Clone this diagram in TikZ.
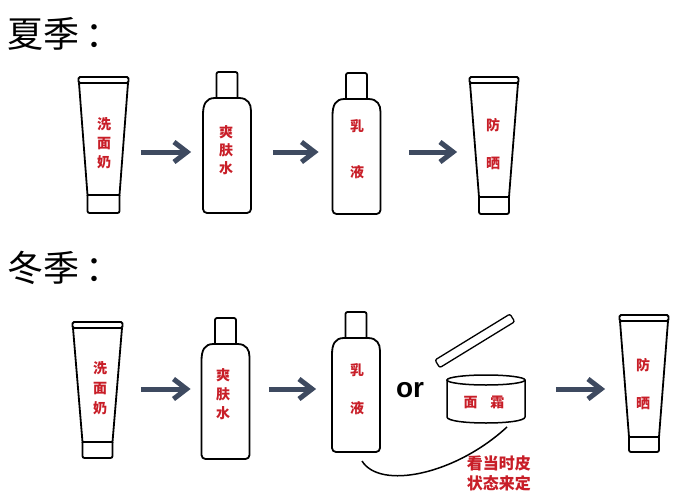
\documentclass[tikz,border=0pt]{standalone}
\usepackage{fontspec}
\usepackage{tikz}
\usetikzlibrary{arrows.meta}
\newfontfamily\cjk{Noto Sans CJK SC}
\newfontfamily\latin{Liberation Sans}
\definecolor{labred}{RGB}{200,30,40}
\definecolor{arrowgray}{RGB}{62,74,96}

\begin{document}
\begin{tikzpicture}[x=1pt,y=-1pt,line width=1.8pt,
	flow/.style={arrowgray,line width=5pt,-{Straight Barb[length=13pt,width=20pt]}},
	slot/.style={inner sep=0pt,minimum height=1pt,minimum width=#1},
	lbl/.style={text=labred,align=center,inner sep=0pt,font=\cjk\bfseries\fontsize{14}{#1}\selectfont},
	lbl/.default=19,
	season/.style={anchor=west,inner sep=0pt,font=\cjk\fontsize{36}{40}\selectfont}]
	\useasboundingbox (0,0) rectangle (678,498);

	\node[season] (summer) at (7,34) {夏季\,：};
	\node[season] (winter) at (7,268) {冬季\,：};

	% tubes
	\foreach \cx/\t/\hw/\hb/\tb/\cb in {103.5/77/24.5/16/195/213, 494/77/24/15/197/214, 97.5/322/24.5/15/442/458, 644/315/24/15/437/452}{
		\draw[rounded corners=1.5pt] ({\cx-\hw-0.5},\t) rectangle ({\cx+\hw+0.5},{\t+6});
		\draw ({\cx-\hw},{\t+6}) -- ({\cx-\hb},\tb) -- ({\cx+\hb},\tb) -- ({\cx+\hw},{\t+6});
		\draw[rounded corners=2pt] ({\cx-\hb},\tb) -- ({\cx-\hb},\cb) -- ({\cx+\hb},\cb) -- ({\cx+\hb},\tb);
	}
	% bottles
	\foreach \cx/\n/\b in {227/72/213, 356.5/73/214, 225.5/318/459, 356/312/452}{
		\draw[rounded corners=2pt] ({\cx-10.5},{\n+26}) -- ({\cx-10.5},\n) -- ({\cx+10.5},\n) -- ({\cx+10.5},{\n+26});
		\draw ({\cx-12},{\n+26}) .. controls ({\cx-21},{\n+26}) and ({\cx-24},{\n+32}) .. ({\cx-24},{\n+43})
			[rounded corners=4pt] -- ({\cx-24},\b) -- ({\cx+24},\b) -- ({\cx+24},{\n+43})
			[sharp corners] .. controls ({\cx+24},{\n+32}) and ({\cx+21},{\n+26}) .. ({\cx+12},{\n+26}) -- cycle;
	}
	% cream jar
	\draw[line width=1.3pt,rounded corners=2pt] (435,360) -- (510,314) -- (514.7,321.7) -- (439.7,367.7) -- cycle;
	\draw[line width=1.5pt] (486,380) ellipse [x radius=39,y radius=5];
	\draw[line width=1.5pt] (447,380) -- (447,417) .. controls (447,425) and (525,425) .. (525,417) -- (525,380);

	\node[lbl=19] (wash1txt) at (104,143) {洗\\面\\奶};
	\node[lbl=18] (toner1txt) at (226,150) {爽\\肤\\水};
	\node[lbl=46] (milk1txt) at (357,149) {乳\\液};
	\node[lbl=38] (sun1txt) at (493,144) {防\\晒};
	\node[lbl=20] (wash2txt) at (100,388) {洗\\面\\奶};
	\node[lbl=19] (toner2txt) at (223,394) {爽\\肤\\水};
	\node[lbl=38] (milk2txt) at (357,389) {乳\\液};
	\node[lbl] (creamtxt) at (484,402) {面\hspace{13pt}霜};
	\node[lbl=38] (sun2txt) at (643,384) {防\\晒};
	\node[inner sep=0pt,font=\latin\bfseries\fontsize{28}{30}\selectfont] (or) at (410,390) {or};
	\node[anchor=west,align=left,text=labred,inner sep=0pt,font=\cjk\bfseries\fontsize{16}{20}\selectfont] (note) at (466,473) {看当时皮\\状态来定};

	\node[slot=49] (wash1) at (103.5,152) {};
	\node[slot=48] (toner1) at (227,152) {};
	\node[slot=48] (milk1) at (356.5,152) {};
	\node[slot=48] (sun1) at (494,152) {};
	\node[slot=49] (wash2) at (97.5,389) {};
	\node[slot=48] (toner2) at (225.5,389) {};
	\node[slot=48] (milk2) at (356,389) {};
	\node[slot=78] (cream) at (486,389) {};
	\node[slot=48] (sun2) at (644,389) {};

	\draw[flow,shorten <=12pt,shorten >=11pt] (wash1) -- (toner1);
	\draw[flow,shorten <=21pt,shorten >=13pt] (toner1) -- (milk1);
	\draw[flow,shorten <=27.5pt,shorten >=12pt] (milk1) -- (sun1);
	\draw[flow,shorten <=18pt,shorten >=10pt] (wash2) -- (toner2);
	\draw[flow,shorten <=18.5pt,shorten >=15pt] (toner2) -- (milk2);
	\draw[flow,shorten <=30pt,shorten >=14pt] (cream) -- (sun2);

	\coordinate (hookA) at (362,461);
	\coordinate (hookB) at (507,427);
	\draw[line width=1.5pt] (hookA) .. controls (380,490) and (455,475) .. (hookB);
	%\draw (milk2) -- (cream);
\end{tikzpicture}
\end{document}
